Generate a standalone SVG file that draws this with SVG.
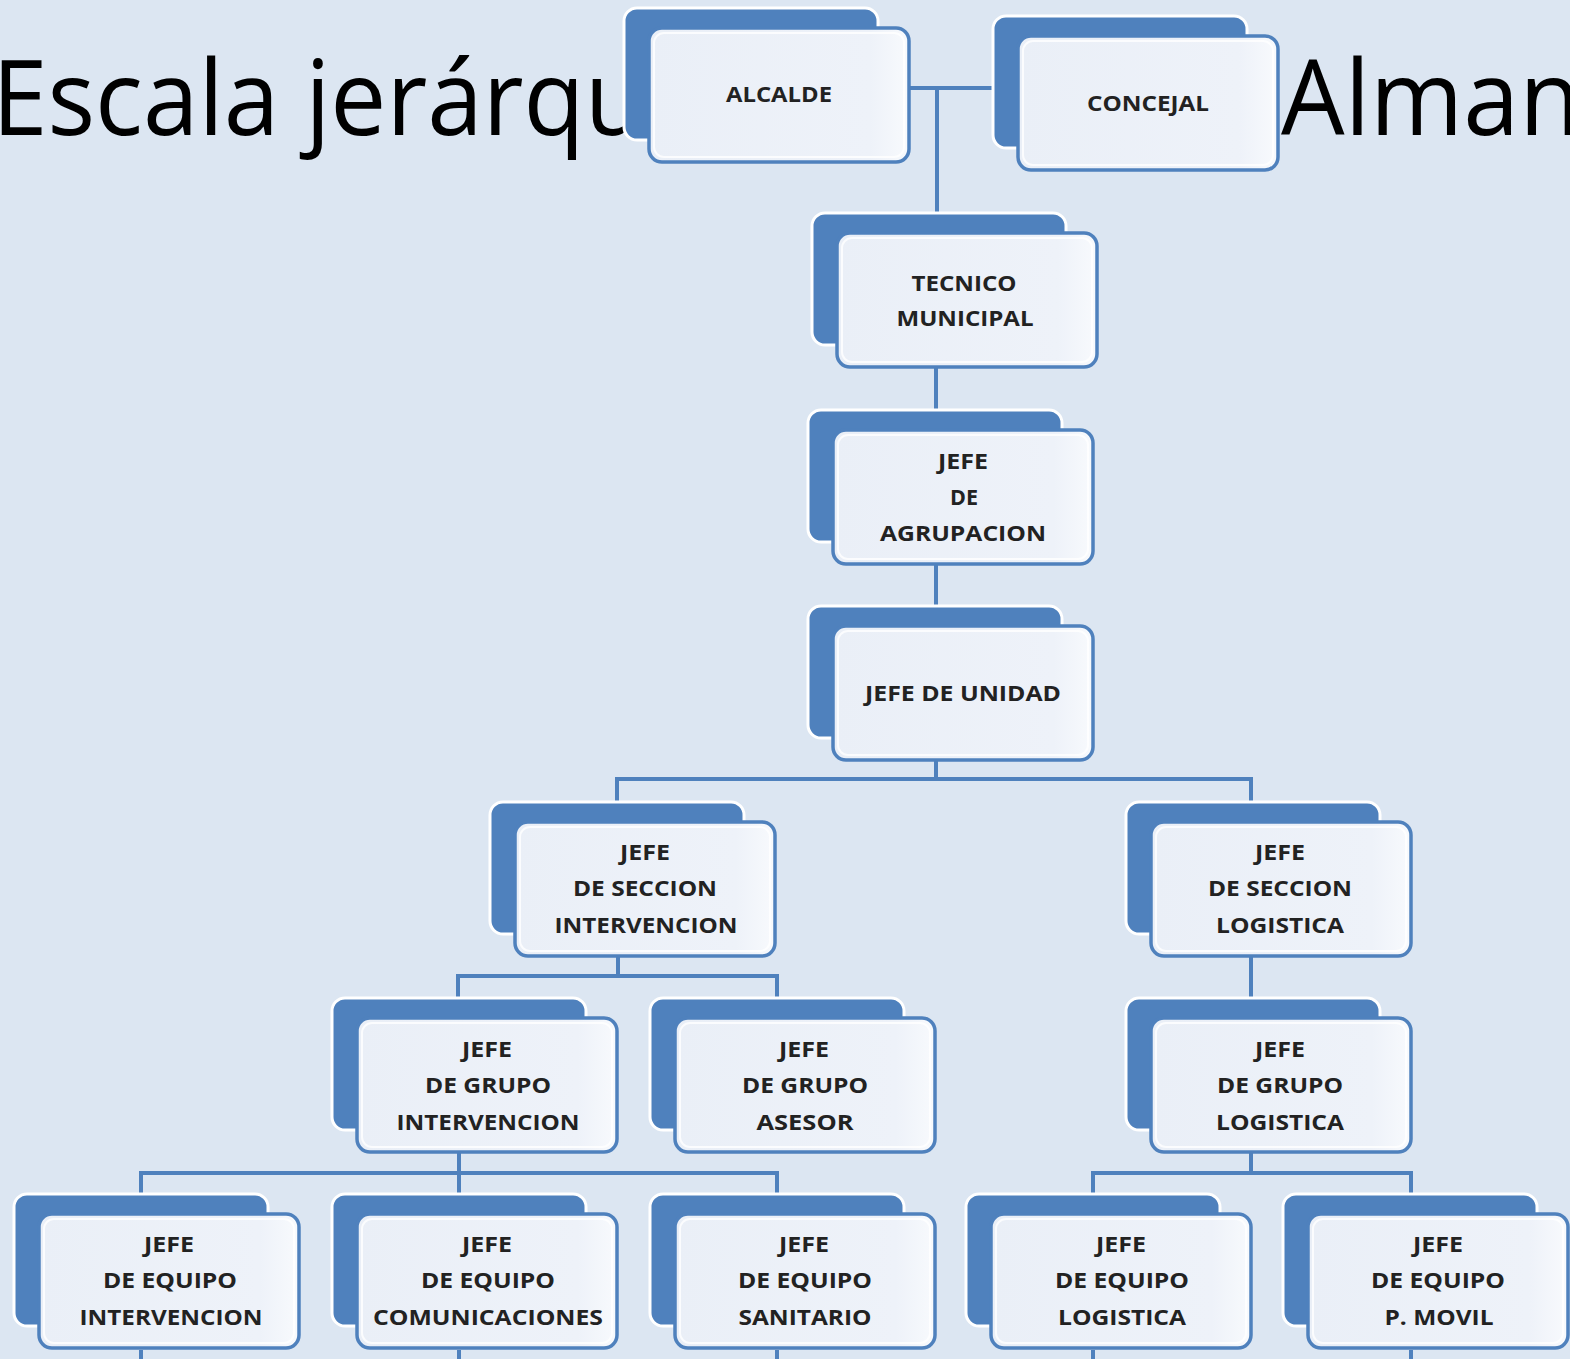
<svg xmlns="http://www.w3.org/2000/svg" width="1570" height="1359" viewBox="0 0 1570 1359">
<style>
.bg{fill:#dce6f2}
.title{font-family:"Open Sans","Liberation Sans",sans-serif;font-size:104px;fill:#000}
.back{fill:#4f81bd;stroke:#ffffff;stroke-width:3}
.front{stroke:#4f81bd;stroke-width:3.5}
.hl{fill:none;stroke:#ffffff;stroke-width:2;opacity:0.8}
.lbl{font-family:"Open Sans","Liberation Sans",sans-serif;font-weight:bold;font-size:22px;fill:#222;text-anchor:middle}
.conn{fill:none;stroke:#4f81bd;stroke-width:4}
</style>
<defs>
<linearGradient id="fg" x1="0" y1="0" x2="1" y2="0">
<stop offset="0" stop-color="#eaeff7"/>
<stop offset="0.85" stop-color="#eef2f9"/>
<stop offset="1" stop-color="#f8fafd"/>
</linearGradient>
<g id="box">
<rect class="back" x="0" y="0" width="254" height="132" rx="13"/>
<rect class="front" x="25" y="20" width="260" height="134" rx="13" fill="url(#fg)"/>
<rect class="hl" x="30" y="25" width="250" height="124" rx="10"/>
</g>
</defs>
<rect class="bg" x="0" y="0" width="1570" height="1359"/>
<text class="title" x="-8" y="135" textLength="654" lengthAdjust="spacingAndGlyphs">Escala jerárqu</text>
<text class="title" x="1281" y="135" textLength="300" lengthAdjust="spacingAndGlyphs">Alman</text>

<g id="connectors">
<path class="conn" d="M907 88 H993 M937 88 V213"/>
<path class="conn" d="M936 367 V410"/>
<path class="conn" d="M936 564 V606"/>
<path class="conn" d="M936 760 V779 M617 802 V779 H1251 V802"/>
<path class="conn" d="M618 956 V976 M458 998 V976 H777 V998"/>
<path class="conn" d="M1251 956 V998"/>
<path class="conn" d="M459 1152 V1173 M141 1194 V1173 H777 V1194 M459 1173 V1194"/>
<path class="conn" d="M1251 1152 V1173 M1093 1194 V1173 H1411 V1194"/>
<path class="conn" d="M141 1350 V1359 M459 1350 V1359 M777 1350 V1359 M1093 1350 V1359 M1411 1350 V1359"/>
</g>

<g id="n-alcalde"><use href="#box" x="624" y="8"/>
<text class="lbl" x="779" y="102" textLength="106" lengthAdjust="spacingAndGlyphs">ALCALDE</text></g>

<g id="n-concejal"><use href="#box" x="993" y="16"/>
<text class="lbl" x="1148" y="111" textLength="122" lengthAdjust="spacingAndGlyphs">CONCEJAL</text></g>

<g id="n-tecnico"><use href="#box" x="812" y="213"/>
<text class="lbl" x="964" y="291" textLength="105" lengthAdjust="spacingAndGlyphs">TECNICO</text>
<text class="lbl" x="965" y="326" textLength="137" lengthAdjust="spacingAndGlyphs">MUNICIPAL</text></g>

<g id="n-agrupacion"><use href="#box" x="808" y="410"/>
<text class="lbl" x="963" y="469" textLength="50" lengthAdjust="spacingAndGlyphs">JEFE</text>
<text class="lbl" x="964" y="505" textLength="28" lengthAdjust="spacingAndGlyphs">DE</text>
<text class="lbl" x="963" y="541" textLength="166" lengthAdjust="spacingAndGlyphs">AGRUPACION</text></g>

<g id="n-unidad"><use href="#box" x="808" y="606"/>
<text class="lbl" x="963" y="701" textLength="196" lengthAdjust="spacingAndGlyphs">JEFE DE UNIDAD</text></g>

<g id="n-seccion-int"><use href="#box" x="490" y="802"/>
<text class="lbl" x="645" y="860" textLength="50" lengthAdjust="spacingAndGlyphs">JEFE</text>
<text class="lbl" x="645" y="896" textLength="144" lengthAdjust="spacingAndGlyphs">DE SECCION</text>
<text class="lbl" x="646" y="933" textLength="183" lengthAdjust="spacingAndGlyphs">INTERVENCION</text></g>

<g id="n-seccion-log"><use href="#box" x="1126" y="802"/>
<text class="lbl" x="1280" y="860" textLength="50" lengthAdjust="spacingAndGlyphs">JEFE</text>
<text class="lbl" x="1280" y="896" textLength="144" lengthAdjust="spacingAndGlyphs">DE SECCION</text>
<text class="lbl" x="1280" y="933" textLength="128" lengthAdjust="spacingAndGlyphs">LOGISTICA</text></g>

<g id="n-grupo-int"><use href="#box" x="332" y="998"/>
<text class="lbl" x="487" y="1057" textLength="50" lengthAdjust="spacingAndGlyphs">JEFE</text>
<text class="lbl" x="488" y="1093" textLength="126" lengthAdjust="spacingAndGlyphs">DE GRUPO</text>
<text class="lbl" x="488" y="1130" textLength="183" lengthAdjust="spacingAndGlyphs">INTERVENCION</text></g>

<g id="n-grupo-asesor"><use href="#box" x="650" y="998"/>
<text class="lbl" x="804" y="1057" textLength="50" lengthAdjust="spacingAndGlyphs">JEFE</text>
<text class="lbl" x="805" y="1093" textLength="126" lengthAdjust="spacingAndGlyphs">DE GRUPO</text>
<text class="lbl" x="805" y="1130" textLength="97" lengthAdjust="spacingAndGlyphs">ASESOR</text></g>

<g id="n-grupo-log"><use href="#box" x="1126" y="998"/>
<text class="lbl" x="1280" y="1057" textLength="50" lengthAdjust="spacingAndGlyphs">JEFE</text>
<text class="lbl" x="1280" y="1093" textLength="126" lengthAdjust="spacingAndGlyphs">DE GRUPO</text>
<text class="lbl" x="1280" y="1130" textLength="128" lengthAdjust="spacingAndGlyphs">LOGISTICA</text></g>

<g id="n-equipo-int"><use href="#box" x="14" y="1194"/>
<text class="lbl" x="169" y="1252" textLength="50" lengthAdjust="spacingAndGlyphs">JEFE</text>
<text class="lbl" x="170" y="1288" textLength="134" lengthAdjust="spacingAndGlyphs">DE EQUIPO</text>
<text class="lbl" x="171" y="1325" textLength="183" lengthAdjust="spacingAndGlyphs">INTERVENCION</text></g>

<g id="n-equipo-com"><use href="#box" x="332" y="1194"/>
<text class="lbl" x="487" y="1252" textLength="50" lengthAdjust="spacingAndGlyphs">JEFE</text>
<text class="lbl" x="488" y="1288" textLength="134" lengthAdjust="spacingAndGlyphs">DE EQUIPO</text>
<text class="lbl" x="488" y="1325" textLength="230" lengthAdjust="spacingAndGlyphs">COMUNICACIONES</text></g>

<g id="n-equipo-san"><use href="#box" x="650" y="1194"/>
<text class="lbl" x="804" y="1252" textLength="50" lengthAdjust="spacingAndGlyphs">JEFE</text>
<text class="lbl" x="805" y="1288" textLength="134" lengthAdjust="spacingAndGlyphs">DE EQUIPO</text>
<text class="lbl" x="805" y="1325" textLength="133" lengthAdjust="spacingAndGlyphs">SANITARIO</text></g>

<g id="n-equipo-log"><use href="#box" x="966" y="1194"/>
<text class="lbl" x="1121" y="1252" textLength="50" lengthAdjust="spacingAndGlyphs">JEFE</text>
<text class="lbl" x="1122" y="1288" textLength="134" lengthAdjust="spacingAndGlyphs">DE EQUIPO</text>
<text class="lbl" x="1122" y="1325" textLength="128" lengthAdjust="spacingAndGlyphs">LOGISTICA</text></g>

<g id="n-equipo-pmovil"><use href="#box" x="1283" y="1194"/>
<text class="lbl" x="1438" y="1252" textLength="50" lengthAdjust="spacingAndGlyphs">JEFE</text>
<text class="lbl" x="1438" y="1288" textLength="134" lengthAdjust="spacingAndGlyphs">DE EQUIPO</text>
<text class="lbl" x="1439" y="1325" textLength="109" lengthAdjust="spacingAndGlyphs">P. MOVIL</text></g>
</svg>
